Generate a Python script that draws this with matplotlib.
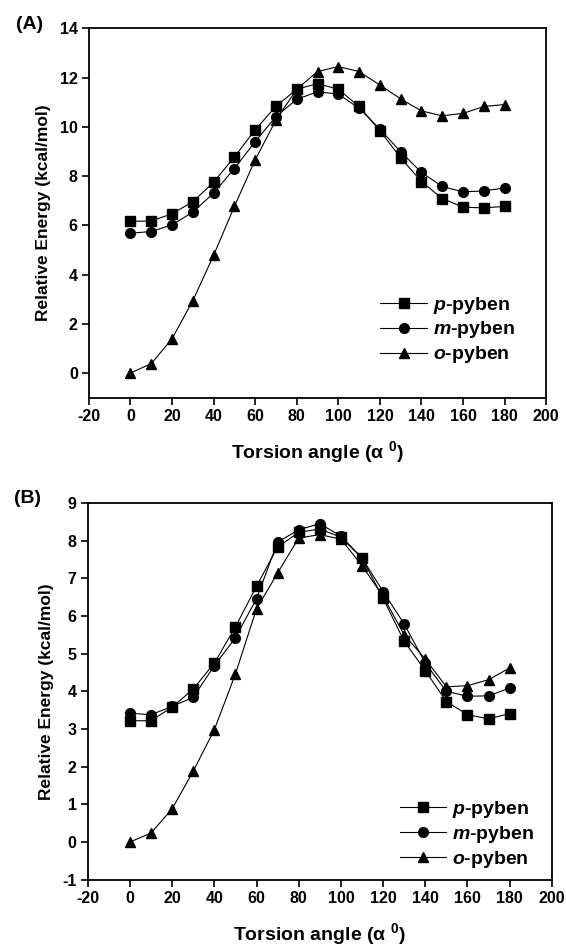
import matplotlib
matplotlib.use("Agg")
import matplotlib.pyplot as plt

plt.rcParams['font.family'] = ['Liberation Sans', 'DejaVu Sans']
plt.rcParams['font.weight'] = 'bold'
plt.rcParams['mathtext.fontset'] = 'custom'
plt.rcParams['mathtext.bfit'] = 'Liberation Sans:bold:italic'
plt.rcParams['mathtext.rm'] = 'Liberation Sans'
plt.rcParams['mathtext.bf'] = 'Liberation Sans:bold'
plt.rcParams['axes.unicode_minus'] = False

angle = [0, 10, 20, 30, 40, 50, 60, 70, 80, 90, 100, 110, 120, 130, 140, 150, 160, 170, 180]

# panel A
a_para = [6.16, 6.18, 6.47, 6.96, 7.75, 8.78, 9.88, 10.84, 11.53, 11.76, 11.53, 10.83,
          9.85, 8.74, 7.78, 7.09, 6.74, 6.71, 6.77]
a_meta = [5.68, 5.75, 6.02, 6.54, 7.31, 8.31, 9.40, 10.42, 11.12, 11.43, 11.33, 10.76,
          9.91, 8.99, 8.15, 7.58, 7.36, 7.40, 7.52]
a_ortho = [0.0, 0.38, 1.39, 2.94, 4.78, 6.77, 8.66, 10.28, 11.53, 12.25, 12.45, 12.25,
           11.70, 11.14, 10.65, 10.45, 10.55, 10.83, 10.91]

# panel B
b_para = [3.22, 3.22, 3.58, 4.06, 4.75, 5.71, 6.79, 7.83, 8.22, 8.31, 8.09, 7.54,
          6.47, 5.33, 4.55, 3.73, 3.38, 3.27, 3.41]
b_meta = [3.42, 3.38, 3.60, 3.84, 4.68, 5.42, 6.46, 7.96, 8.29, 8.45, 8.12, 7.54,
          6.65, 5.79, 4.75, 4.00, 3.87, 3.88, 4.09]
b_ortho = [0.0, 0.24, 0.88, 1.88, 2.98, 4.46, 6.19, 7.14, 8.07, 8.16, 8.04, 7.34,
           6.52, 5.50, 4.86, 4.12, 4.15, 4.31, 4.62]

names = [r"$\mathbfit{p}$-pyben", r"$\mathbfit{m}$-pyben", r"$\mathbfit{o}$-pyben"]
markers = ['s', 'o', '^']

fig = plt.figure(figsize=(5.66, 9.49), dpi=100)
axA = fig.add_axes([0.157, 0.581, 0.808, 0.389])
axB = fig.add_axes([0.155, 0.073, 0.820, 0.397])


def draw(ax, series, ylim, yticks, tag, anchor):
    for ys, m, n in zip(series, markers, names):
        ax.plot(angle, ys, color='black', lw=0.8, marker=m, markersize=7, label=n)
    ax.set_xlim(-20, 200)
    ax.set_xticks(range(-20, 201, 20))
    ax.set_ylim(*ylim)
    ax.set_yticks(yticks)
    ax.tick_params(direction='out', length=5, width=1.2, labelsize=11.5, pad=3)
    for lab in ax.get_xticklabels() + ax.get_yticklabels():
        lab.set_fontweight('bold')
    for s in ax.spines.values():
        s.set_linewidth(1.3)
    ax.set_xlabel("Torsion angle (\u03b1 $^{0}$)", fontsize=14, fontweight='bold', labelpad=11)
    ax.set_ylabel("Relative Energy (kcal/mol)", fontsize=12.5, fontweight='bold', labelpad=6)
    leg = ax.legend(loc='lower right', bbox_to_anchor=anchor, frameon=False, fontsize=14,
                    handlelength=2.4, handletextpad=0.3, labelspacing=0.2)
    for t in leg.get_texts():
        t.set_fontweight('bold')
    ax.text(-0.13, 1.012, tag, transform=ax.transAxes, fontsize=14, fontweight='bold',
            ha='center', va='center')


draw(axA, [a_para, a_meta, a_ortho], (-1, 14), range(0, 15, 2), "(A)", (0.97, 0.04))
draw(axB, [b_para, b_meta, b_ortho], (-1, 9), range(-1, 10), "(B)", (1.0, -0.02))

fig.savefig("out.png", dpi=100)
